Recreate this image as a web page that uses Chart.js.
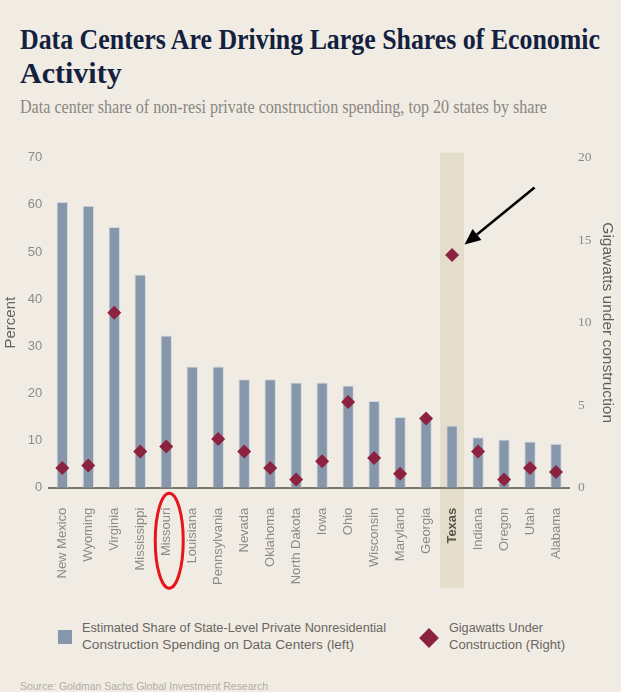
<!DOCTYPE html>
<html>
<head>
<meta charset="utf-8">
<script src="https://cdn.jsdelivr.net/npm/chart.js@4"></script>
<style>
  html, body { margin: 0; padding: 0; }
  body { width: 621px; height: 692px; background: #f0ece4; position: relative; overflow: hidden; }
  .line { position: absolute; left: 20px; white-space: nowrap; transform-origin: left top; display: inline-block; }
  .title { font-family: "Liberation Serif", serif; font-weight: bold; font-size: 30px; line-height: 34px; color: #13213f; }
  .sub { font-family: "Liberation Serif", serif; font-size: 19px; line-height: 19px; color: #8b867f; }
  #chartBox { position: absolute; left: 0; top: 140px; width: 621px; height: 460px; }
  .leg { position: absolute; font-family: "Liberation Sans", sans-serif; font-size: 12.5px; line-height: 17px; color: #6a665f; white-space: nowrap; }
  .leg span { display: inline-block; transform-origin: left top; }
  .src { position: absolute; left: 20px; top: 680px; font-family: "Liberation Sans", sans-serif; font-size: 11px; line-height: 12px; color: #b3ada3; white-space: nowrap; display: inline-block; transform-origin: left top; }
</style>
</head>
<body>
<div class="line title" id="t1" style="top:22px">Data Centers Are Driving Large Shares of Economic</div>
<div class="line title" id="t2" style="top:56px">Activity</div>
<div class="line sub" id="sub" style="top:97px">Data center share of non-resi private construction spending, top 20 states by share</div>

<div id="chartBox"><canvas id="c" width="621" height="460"></canvas></div>

<div style="position:absolute;left:58px;top:630px;width:14px;height:14px;background:#8797ab"></div>
<div class="leg" style="left:82px;top:620px">
  <span id="l1">Estimated Share of State-Level Private Nonresidential</span><br>
  <span id="l2">Construction Spending on Data Centers (left)</span>
</div>
<div style="position:absolute;left:422px;top:630.5px;width:14px;height:14px;background:#8c2240;transform:rotate(45deg)"></div>
<div class="leg" style="left:449px;top:620px">
  <span id="l3">Gigawatts Under</span><br>
  <span id="l4">Construction (Right)</span>
</div>
<div class="src" id="src">Source: Goldman Sachs Global Investment Research</div>

<script>
// datos
const states = ['New Mexico', 'Wyoming', 'Virginia', 'Mississippi', 'Missouri', 'Louisiana',
  'Pennsylvania', 'Nevada', 'Oklahoma', 'North Dakota', 'Iowa', 'Ohio', 'Wisconsin',
  'Maryland', 'Georgia', 'Texas', 'Indiana', 'Oregon', 'Utah', 'Alabama'];
const shareValues = [60.6, 59.8, 55.3, 45.2, 32.3, 25.7, 25.7, 23.0, 23.0, 22.3,
  22.3, 21.7, 18.4, 15.0, 14.6, 13.2, 10.7, 10.2, 9.8, 9.3];
const gwValues = [1.2, 1.35, 10.6, 2.2, 2.5, null, 2.95, 2.2, 1.2, 0.5,
  1.6, 5.2, 1.8, 0.85, 4.2, 14.1, 2.2, 0.5, 1.2, 0.95];
const highlightState = 'Texas';
const circledState = 'Missouri';

// ajustar ancho de textos
function fitTo(id, w) {
  const el = document.getElementById(id);
  const r = w / el.getBoundingClientRect().width;
  el.style.transform = 'scaleX(' + r + ')';
}
fitTo('t1', 580);
fitTo('sub', 527);
fitTo('l1', 304);
fitTo('l2', 272);
fitTo('l3', 94);
fitTo('l4', 116);
fitTo('src', 248);

const hi = states.indexOf(highlightState);
const circ = states.indexOf(circledState);

const decoraciones = {
  id: 'decoraciones',
  beforeDraw(chart) {
    const { ctx, chartArea, scales } = chart;
    const xc = scales.x.getPixelForValue(hi);
    ctx.save();
    ctx.fillStyle = '#e4ddcb';
    ctx.fillRect(xc - 12, chartArea.top - 5, 24, chartArea.bottom - chartArea.top + 105);
    ctx.restore();
  },
  afterDraw(chart) {
    const { ctx, chartArea, scales } = chart;
    // circulo rojo
    const xm = scales.x.getPixelForValue(circ) + 3;
    ctx.save();
    ctx.strokeStyle = '#e8141c';
    ctx.lineWidth = 3;
    ctx.beginPath();
    ctx.ellipse(xm, chartArea.bottom + 53, 14, 47.5, 0, 0, Math.PI * 2);
    ctx.stroke();
    // flecha
    const px = scales.x.getPixelForValue(hi);
    const py = scales.y1.getPixelForValue(gwValues[hi]);
    const tipX = px + 12.5, tipY = py - 10.5;
    const tailX = tipX + 70, tailY = tipY - 57;
    const ang = Math.atan2(tipY - tailY, tipX - tailX);
    const hl = 16, hw = 7;
    const bx = tipX - hl * Math.cos(ang), by = tipY - hl * Math.sin(ang);
    ctx.strokeStyle = '#000';
    ctx.lineWidth = 2.5;
    ctx.beginPath();
    ctx.moveTo(tailX, tailY);
    ctx.lineTo(bx, by);
    ctx.stroke();
    ctx.fillStyle = '#000';
    ctx.beginPath();
    ctx.moveTo(tipX, tipY);
    ctx.lineTo(bx + hw * Math.sin(ang), by - hw * Math.cos(ang));
    ctx.lineTo(bx - hw * Math.sin(ang), by + hw * Math.cos(ang));
    ctx.closePath();
    ctx.fill();
    ctx.restore();
  }
};

const tickGray = '#8e8a84';
const titleGray = '#625e58';

new Chart(document.getElementById('c'), {
  type: 'bar',
  data: {
    labels: states,
    datasets: [
      {
        type: 'line',
        label: 'Gigawatts Under Construction (Right)',
        data: gwValues,
        yAxisID: 'y1',
        showLine: false,
        pointStyle: 'rectRot',
        pointRadius: 7,
        pointHoverRadius: 7,
        pointBackgroundColor: '#8c2240',
        pointBorderWidth: 0,
        order: 0
      },
      {
        label: 'Estimated Share of State-Level Private Nonresidential Construction Spending on Data Centers (left)',
        data: shareValues,
        yAxisID: 'y',
        backgroundColor: '#8797ab',
        borderColor: '#d3d8de',
        borderWidth: 1,
        barPercentage: 0.44,
        categoryPercentage: 1,
        order: 1
      }
    ]
  },
  options: {
    responsive: false,
    animation: false,
    layout: { padding: { top: 17.7, left: 0, right: 0, bottom: 0 } },
    plugins: {
      legend: { display: false },
      tooltip: { enabled: false }
    },
    scales: {
      x: {
        offset: true,
        grid: { display: false, drawTicks: false },
        border: { display: true, color: '#7a776e', width: 2 },
        ticks: {
          autoSkip: false,
          minRotation: 90,
          maxRotation: 90,
          padding: 20,
          color: (c) => c.index === hi ? '#5a564f' : tickGray,
          font: (c) => ({ family: 'Liberation Sans', size: 13, weight: c.index === hi ? 'bold' : 'normal' })
        },
        afterFit: (s) => { s.height = 112.3; }
      },
      y: {
        position: 'left',
        min: 0,
        max: 70,
        grid: { display: false, drawTicks: false },
        border: { display: false },
        ticks: { stepSize: 10, padding: 7, color: tickGray, font: { family: 'Liberation Sans', size: 13 } },
        title: {
          display: true, text: 'Percent', color: titleGray,
          font: { family: 'Liberation Sans', size: 15 },
          padding: { top: 2, bottom: 0 }
        },
        afterFit: (s) => { s.width = 49.3; }
      },
      y1: {
        position: 'right',
        min: 0,
        max: 20,
        grid: { display: false, drawTicks: false },
        border: { display: false },
        ticks: { stepSize: 5, padding: 9, color: tickGray, font: { family: 'Liberation Serif', size: 13.5 } },
        title: {
          display: true, text: 'Gigawatts under construction', color: titleGray,
          font: { family: 'Liberation Sans', size: 15.5 },
          padding: { top: 4, bottom: 0 }
        },
        afterFit: (s) => { s.width = 52; }
      }
    }
  },
  plugins: [decoraciones]
});
</script>
</body>
</html>
